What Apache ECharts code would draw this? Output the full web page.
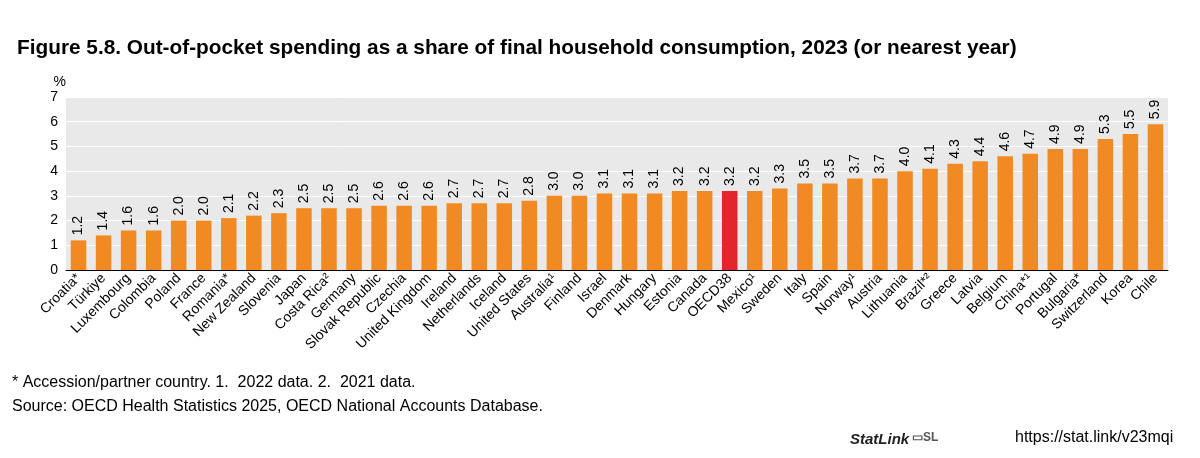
<!DOCTYPE html><html><head><meta charset="utf-8">
<script src="https://cdn.jsdelivr.net/npm/echarts@6/dist/echarts.min.js"></script>
<style>body{margin:0;background:#fff}#c{width:1200px;height:458px}</style></head><body><div id="c"></div>
<script>
const categories=["Croatia*","Türkiye","Luxembourg","Colombia","Poland","France","Romania*","New Zealand","Slovenia","Japan","Costa Rica²","Germany","Slovak Republic","Czechia","United Kingdom","Ireland","Netherlands","Iceland","United States","Australia¹","Finland","Israel","Denmark","Hungary","Estonia","Canada","OECD38","Mexico¹","Sweden","Italy","Spain","Norway¹","Austria","Lithuania","Brazil*²","Greece","Latvia","Belgium","China*¹","Portugal","Bulgaria*","Switzerland","Korea","Chile"];
const values=[1.2,1.4,1.6,1.6,2.0,2.0,2.1,2.2,2.3,2.5,2.5,2.5,2.6,2.6,2.6,2.7,2.7,2.7,2.8,3.0,3.0,3.1,3.1,3.1,3.2,3.2,3.2,3.2,3.3,3.5,3.5,3.7,3.7,4.0,4.1,4.3,4.4,4.6,4.7,4.9,4.9,5.3,5.5,5.9];
const highlight="OECD38";
const F="'Liberation Sans Narrow','Arial Narrow','Liberation Sans',Arial,sans-serif";
const chart=echarts.init(document.getElementById('c'));
chart.setOption({
 animation:false,
 textStyle:{fontFamily:F},
 title:{text:"Figure 5.8. Out-of-pocket spending as a share of final household consumption, 2023 (or nearest year)",left:12,top:33,textStyle:{fontSize:20.8,fontWeight:'bold',color:'#000',fontFamily:F}},
 grid:{left:66,right:32,top:97,bottom:188,backgroundColor:'#e9e9e9',show:true,borderWidth:0},
 xAxis:{type:'category',data:categories,axisTick:{show:false},axisLine:{lineStyle:{color:'#000'}},
  axisLabel:{rotate:45,interval:0,fontSize:14,color:'#000',margin:6}},
 yAxis:{type:'value',min:0,max:7,interval:1,name:'%',nameGap:8,nameTextStyle:{color:'#000',fontSize:14,align:'right'},
  axisLabel:{fontSize:14,color:'#000'},axisLine:{show:false},axisTick:{show:false},splitLine:{lineStyle:{color:'#fff',width:1}}},
 series:[{type:'bar',barWidth:'62%',
  data:values.map((v,i)=>({value:v,itemStyle:{color:categories[i]===highlight?'#e3262b':'#f28a24'}})),
  label:{show:true,position:'top',rotate:90,align:'left',verticalAlign:'middle',distance:5,fontSize:14,color:'#000',formatter:p=>p.value.toFixed(1)}}],
 graphic:[
  {type:'text',left:12,top:375,style:{text:"* Accession/partner country. 1.  2022 data. 2.  2021 data.",font:"16px 'Liberation Sans',Arial",fill:'#000'}},
  {type:'text',left:12,top:399,style:{text:"Source: OECD Health Statistics 2025, OECD National Accounts Database.",font:"16px 'Liberation Sans',Arial",fill:'#000'}},
  {type:'text',left:850,top:432,style:{text:"StatLink",font:"italic bold 15px 'Liberation Sans',Arial",fill:'#222'}},
  {type:'text',left:912,top:432,style:{text:"▭SL",font:"bold 12px 'Liberation Sans',Arial",fill:'#555'}},
  {type:'text',left:1015,top:430,style:{text:"https://stat.link/v23mqi",font:"16px 'Liberation Sans',Arial",fill:'#000'}}
 ]
});
</script></body></html>
